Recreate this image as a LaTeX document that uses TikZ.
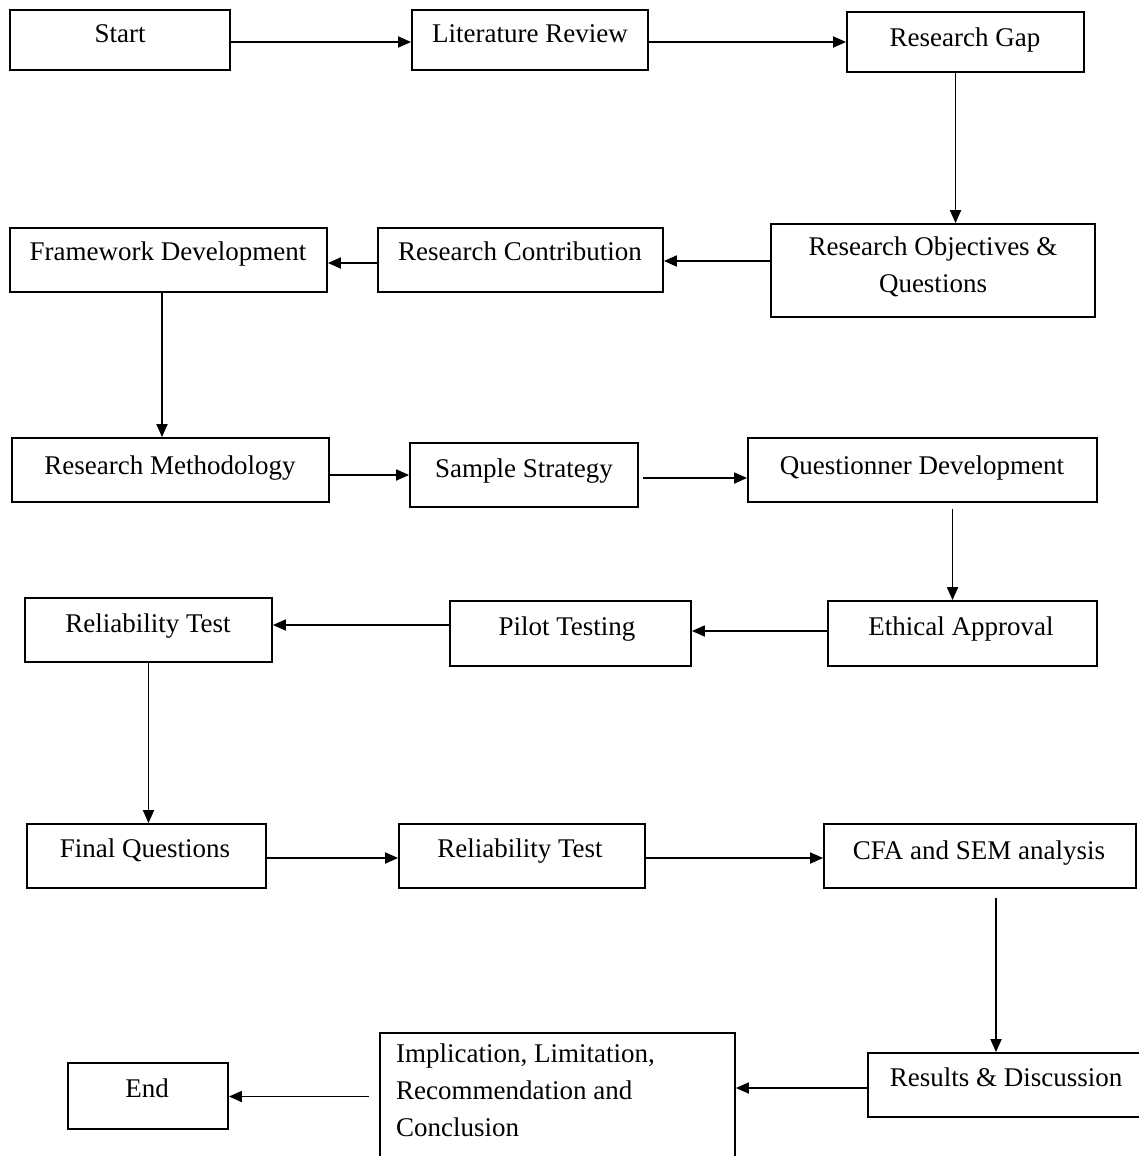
\documentclass[tikz,border=0pt]{standalone}
\usepackage{fontspec}
\setmainfont{Liberation Serif}
\usetikzlibrary{arrows.meta}
\tikzset{
  box/.style={draw=black, line width=1.8pt, rectangle, inner sep=0pt, fill=white},
  lbl/.style={inner sep=0pt, font=\fontsize{27}{37}\selectfont, text height=19pt, text depth=6pt},
  arr/.style={draw=black, line width=1.8pt, -{Triangle[length=13pt,width=11pt]}}
}
\newcommand{\mybox}[6]{% name, x1, y1, x2, y2, text y
  \node[box, minimum width={(#4-#2)*1pt}, minimum height={(#5-#3)*1pt}] (#1) at ({(#2+#4)/2},{(#3+#5)/2}) {};
}
\begin{document}
\begin{tikzpicture}[x=1pt,y=-1pt]
\useasboundingbox (0,0) rectangle (1139,1156);
\fill[white] (0,0) rectangle (1139,1156);
% boxes
\mybox{start}{10}{10}{230}{70}{}
\mybox{lit}{412}{10}{648}{70}{}
\mybox{gap}{847}{12}{1084}{72}{}
\mybox{frame}{10}{228}{327}{292}{}
\mybox{contrib}{378}{228}{663}{292}{}
\mybox{obj}{771}{224}{1095}{317}{}
\mybox{meth}{12}{438}{329}{502}{}
\mybox{sample}{410}{443}{638}{507}{}
\mybox{quest}{748}{438}{1097}{502}{}
\mybox{relA}{25}{598}{272}{662}{}
\mybox{pilot}{450}{601}{691}{666}{}
\mybox{eth}{828}{601}{1097}{666}{}
\mybox{final}{27}{824}{266}{888}{}
\mybox{relB}{399}{824}{645}{888}{}
\mybox{cfa}{824}{824}{1136}{888}{}
\mybox{end}{68}{1063}{228}{1129}{}
\mybox{impl}{380}{1033}{735}{1160}{}
\mybox{res}{868}{1053}{1145}{1117}{}
% texts
\node[lbl] (tstart) at (120,36) {Start};
\node[lbl] (tlit) at (530,36) {Literature Review};
\node[lbl] (tgap) at (965,40) {Research Gap};
\node[lbl] (tframe) at (168,254) {Framework Development};
\node[lbl] (tcontrib) at (520,254) {Research Contribution};
\node[lbl] (tobjA) at (933,249) {Research Objectives \&};
\node[lbl] (tobjB) at (933,286) {Questions};
\node[lbl] (tmeth) at (170,468) {Research Methodology};
\node[lbl] (tsample) at (524,471) {Sample Strategy};
\node[lbl] (tquest) at (922,468) {Questionner Development};
\node[lbl] (trelA) at (148,626) {Reliability Test};
\node[lbl] (tpilot) at (567,629) {Pilot Testing};
\node[lbl] (teth) at (961,629) {Ethical Approval};
\node[lbl] (tfinal) at (145,851) {Final Questions};
\node[lbl] (trelB) at (520,851) {Reliability Test};
\node[lbl] (tcfa) at (979,853) {CFA and SEM analysis};
\node[lbl] (tend) at (147,1091) {End};
\node[inner sep=0pt, anchor=north west, align=left, font=\fontsize{27}{37}\selectfont] (timpl) at (396,1044) {Implication, Limitation,\\Recommendation and\\Conclusion};
\node[lbl] (tres) at (1006,1080) {Results \& Discussion};
% connectors
\draw[arr] ([yshift=-2pt]start.east) -- ([yshift=-2pt]start.east -| lit.west);
\draw[arr] ([yshift=-2pt]lit.east) -- ([yshift=-2pt]lit.east -| gap.west);
\coordinate (g1) at ([xshift=-10pt]gap.south);
\draw[arr] (g1) -- (g1 |- obj.north);
\coordinate (o1) at ([yshift=9.5pt]obj.west);
\draw[arr] (o1) -- (o1 -| contrib.east);
\coordinate (c1) at ([yshift=-3pt]contrib.west);
\draw[arr] (c1) -- (c1 -| frame.east);
\coordinate (f1) at ([xshift=-6.5pt]frame.south);
\draw[arr] (f1) -- (f1 |- meth.north);
\coordinate (m1) at ([yshift=-5pt]meth.east);
\draw[arr] (m1) -- (m1 -| sample.west);
\coordinate (s1) at ([yshift=-3pt]sample.east);
\draw[arr] ([xshift=4pt]s1) -- (s1 -| quest.west);
\coordinate (q1) at ([xshift=30pt,yshift=-6pt]quest.south);
\draw[arr] (q1) -- (q1 |- eth.north);
\coordinate (e1) at ([yshift=2.5pt]eth.west);
\draw[arr] (e1) -- (e1 -| pilot.east);
\coordinate (p1) at ([yshift=8.5pt]pilot.west);
\draw[arr] (p1) -- (p1 -| relA.east);
\draw[arr] (relA.south) -- (relA.south |- final.north);
\coordinate (fi1) at ([yshift=-2pt]final.east);
\draw[arr] (fi1) -- (fi1 -| relB.west);
\coordinate (r1) at ([yshift=-2pt]relB.east);
\draw[arr] (r1) -- (r1 -| cfa.west);
\coordinate (cf1) at ([xshift=16pt,yshift=-9pt]cfa.south);
\draw[arr] (cf1) -- (cf1 |- res.north);
\coordinate (re1) at ([yshift=-3pt]res.west);
\draw[arr] (re1) -- (re1 -| impl.east);
\coordinate (i1) at ([xshift=-10pt]impl.west);
\draw[arr] (i1) -- (i1 -| end.east);
\end{tikzpicture}
\end{document}
